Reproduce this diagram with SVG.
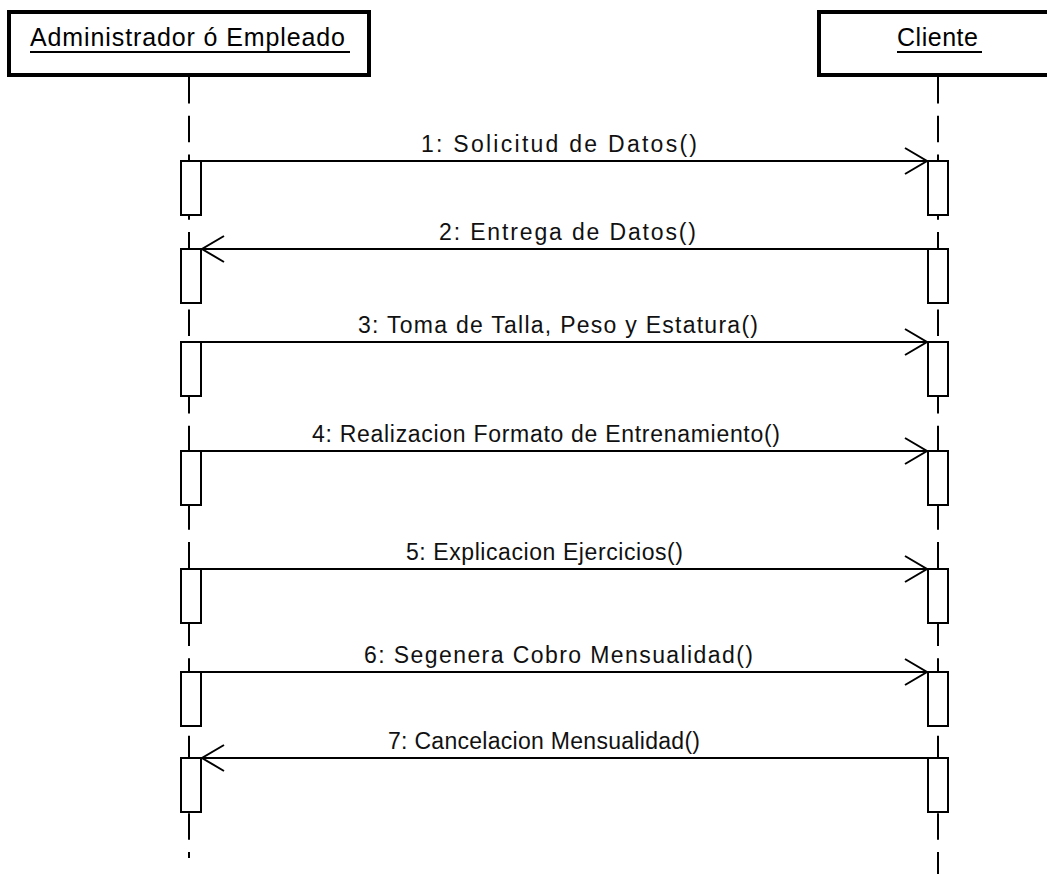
<svg xmlns="http://www.w3.org/2000/svg" width="1047" height="874" viewBox="0 0 1047 874">
  <style>
    .head { fill: #fff; stroke: #000; stroke-width: 4; }
    .name { font-family: "Liberation Sans", Arial, sans-serif; font-size: 25px; fill: #000; }
    .uline { stroke: #000; stroke-width: 2; }
    .life { stroke: #000; stroke-width: 2; fill: none; stroke-dasharray: 26.5 12.25; }
    .act { fill: #fff; stroke: #000; stroke-width: 2; }
    .msg { stroke: #000; stroke-width: 2; fill: none; marker-end: url(#open); }
    .lbl { font-family: "Liberation Sans", Arial, sans-serif; font-size: 23px; fill: #111; }
  </style>
  <defs>
    <marker id="open" markerUnits="userSpaceOnUse" viewBox="-25 -15 27 30" refX="0" refY="0" markerWidth="27" markerHeight="30" orient="auto" overflow="visible">
      <path d="M -22 -13 L 0 0 L -22 13" fill="none" stroke="#000" stroke-width="2"/>
    </marker>
  </defs>
  <rect width="1047" height="874" fill="#fff"/>

  <!-- lifelines -->
  <g id="lifelines">
    <line class="life" x1="189" y1="77" x2="189" y2="858"/>
    <line class="life" x1="938" y1="77" x2="938" y2="874"/>
  </g>

  <!-- participant: Administrador ó Empleado -->
  <g id="admin">
    <rect class="head" x="9" y="12" width="360" height="63"/>
    <text class="name" x="30" y="46" textLength="315" lengthAdjust="spacing">Administrador ó Empleado</text>
    <line class="uline" x1="30" y1="52" x2="350" y2="52"/>
    <rect class="act" x="181" y="161" width="20" height="54"/>
    <rect class="act" x="181" y="249" width="20" height="54"/>
    <rect class="act" x="181" y="342" width="20" height="54"/>
    <rect class="act" x="181" y="451" width="20" height="54"/>
    <rect class="act" x="181" y="569" width="20" height="54"/>
    <rect class="act" x="181" y="672" width="20" height="54"/>
    <rect class="act" x="181" y="758" width="20" height="54"/>
  </g>

  <!-- participant: Cliente -->
  <g id="cliente">
    <rect class="head" x="819" y="12" width="250" height="63"/>
    <text class="name" x="897" y="46" textLength="81" lengthAdjust="spacing">Cliente</text>
    <line class="uline" x1="897" y1="52" x2="982" y2="52"/>
    <rect class="act" x="928" y="161" width="20" height="54"/>
    <rect class="act" x="928" y="249" width="20" height="54"/>
    <rect class="act" x="928" y="342" width="20" height="54"/>
    <rect class="act" x="928" y="451" width="20" height="54"/>
    <rect class="act" x="928" y="569" width="20" height="54"/>
    <rect class="act" x="928" y="672" width="20" height="54"/>
    <rect class="act" x="928" y="758" width="20" height="54"/>
  </g>

  <!-- messages -->
  <g id="messages">
    <line class="msg" x1="202" y1="161" x2="927" y2="161"/>
    <text class="lbl" x="421" y="152" textLength="276" lengthAdjust="spacing">1: Solicitud de Datos()</text>

    <line class="msg" x1="927" y1="249" x2="202" y2="249"/>
    <text class="lbl" x="439" y="240" textLength="257" lengthAdjust="spacing">2: Entrega de Datos()</text>

    <line class="msg" x1="202" y1="342" x2="927" y2="342"/>
    <text class="lbl" x="358" y="333" textLength="400" lengthAdjust="spacing">3: Toma de Talla, Peso y Estatura()</text>

    <line class="msg" x1="202" y1="451" x2="927" y2="451"/>
    <text class="lbl" x="312" y="442" textLength="468" lengthAdjust="spacing">4: Realizacion Formato de Entrenamiento()</text>

    <line class="msg" x1="202" y1="569" x2="927" y2="569"/>
    <text class="lbl" x="406" y="560" textLength="277" lengthAdjust="spacing">5: Explicacion Ejercicios()</text>

    <line class="msg" x1="202" y1="672" x2="927" y2="672"/>
    <text class="lbl" x="364" y="663" textLength="389" lengthAdjust="spacing">6: Segenera Cobro Mensualidad()</text>

    <line class="msg" x1="927" y1="758" x2="202" y2="758"/>
    <text class="lbl" x="388" y="749" textLength="312" lengthAdjust="spacing">7: Cancelacion Mensualidad()</text>
  </g>
</svg>
